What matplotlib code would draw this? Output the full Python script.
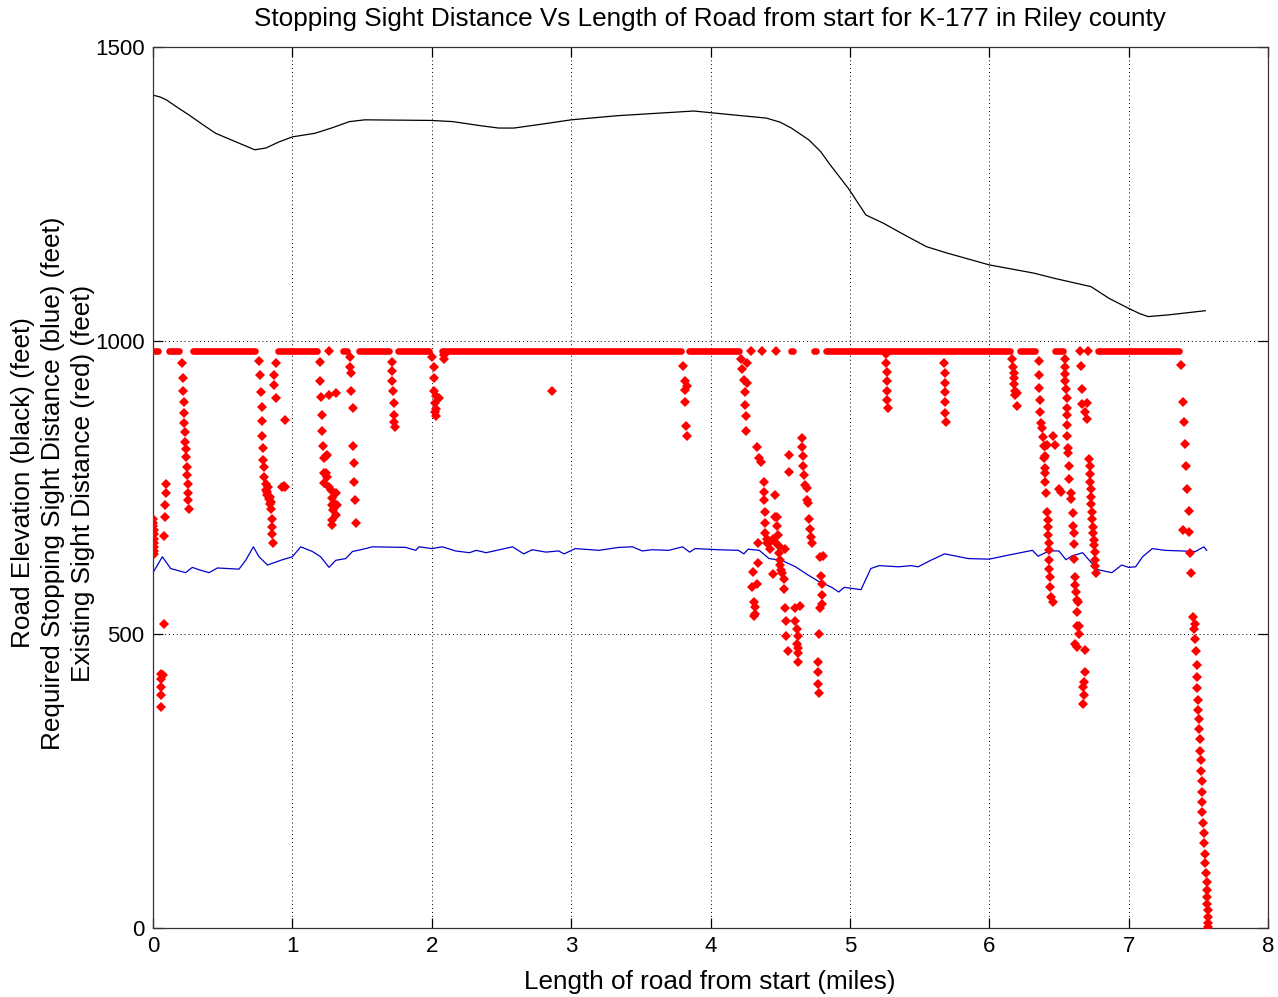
import numpy as np
import matplotlib
matplotlib.use("Agg")
import matplotlib.pyplot as plt

plt.rcParams['font.family'] = ['Liberation Sans', 'DejaVu Sans']

# Road elevation (black)
elev_x = [0.0, 0.05, 0.096, 0.17, 0.26, 0.35, 0.45, 0.6, 0.73, 0.81, 0.9, 1.0, 1.16, 1.28, 1.41,
          1.52, 1.99, 2.15, 2.35, 2.48, 2.59, 2.8, 3.0, 3.33, 3.88, 4.18, 4.40, 4.5, 4.58,
          4.705, 4.79, 4.86, 4.99, 5.115, 5.24, 5.4, 5.55, 5.70, 6.0, 6.32, 6.47, 6.73, 6.86,
          7.0, 7.08, 7.14, 7.29, 7.55]
elev_y = [1418, 1415, 1410, 1398, 1384, 1369, 1353, 1338, 1325, 1328, 1338, 1347, 1353, 1362,
          1373, 1376, 1375, 1373, 1366, 1362, 1362, 1369, 1376, 1383, 1391, 1384, 1379, 1372,
          1362, 1342, 1322, 1299, 1259, 1214, 1200, 1179, 1160, 1149, 1129, 1115, 1106, 1092,
          1072, 1055, 1046, 1041, 1044, 1051]

# Required stopping sight distance (blue)
req_x = [0.0, 0.067, 0.127, 0.234, 0.282, 0.33, 0.402, 0.462, 0.617, 0.665, 0.72, 0.761, 0.821,
         0.928, 1.0, 1.06, 1.144, 1.203, 1.263, 1.311, 1.383, 1.431, 1.526, 1.574, 1.813, 1.885,
         1.909, 2.0, 2.077, 2.17, 2.27, 2.32, 2.39, 2.58, 2.66, 2.72, 2.82, 2.91, 2.95, 3.03,
         3.20, 3.34, 3.44, 3.51, 3.58, 3.70, 3.80, 3.85, 3.89, 4.06, 4.20, 4.24, 4.27, 4.35,
         4.42, 4.51, 4.61, 4.70, 4.77, 4.87, 4.92, 4.96, 5.08, 5.15, 5.21, 5.35, 5.44, 5.49,
         5.58, 5.68, 5.85, 6.0, 6.14, 6.31, 6.35, 6.43, 6.50, 6.55, 6.59, 6.67, 6.74, 6.78,
         6.88, 6.95, 7.0, 7.05, 7.10, 7.17, 7.26, 7.38, 7.48, 7.54, 7.56]
req_y = [605, 632, 612, 605, 614, 610, 605, 613, 611, 626, 649, 632, 618, 627, 632, 649, 641,
         632, 614, 626, 629, 641, 646, 649, 648, 643, 649, 646, 649, 642, 639, 643, 639, 649,
         637, 644, 640, 642, 637, 646, 643, 648, 649, 642, 644, 643, 649, 640, 646, 644, 643,
         637, 645, 643, 629, 626, 615, 601, 591, 580, 572, 580, 576, 612, 617, 615, 617, 615,
         626, 637, 629, 628, 635, 643, 633, 642, 642, 627, 633, 639, 620, 610, 605, 618, 614,
         615, 632, 646, 643, 642, 641, 649, 643]

# Existing sight distance (red): runs of points sitting on the 983 ft ceiling
band_level = 983
band_start = [0.015, 0.115, 0.285, 0.895, 1.36, 1.48, 1.76, 2.075, 3.845, 4.575, 4.74, 4.83,
              6.22, 6.47, 6.78]
band_end = [0.035, 0.19, 0.735, 1.18, 1.395, 1.69, 1.98, 3.79, 4.205, 4.595, 4.755, 6.15,
            6.33, 6.53, 7.36]
band_dots_x = [1.263, 4.29, 4.37, 4.47, 6.65, 6.71]

# Existing sight distance (red): points below the ceiling, 0 - 2 miles
drop_a_x = [0.0, 0.002, 0.003, 0.004, 0.005, 0.006, 0.007, 0.008, 0.009, 0.01,
            0.09, 0.09, 0.085, 0.085, 0.08, 0.08, 0.055, 0.07, 0.06, 0.06, 0.055, 0.058,
            0.210, 0.213, 0.216, 0.219, 0.222, 0.225, 0.228, 0.232, 0.235, 0.238, 0.241, 0.244,
            0.248, 0.251, 0.254, 0.258,
            0.761, 0.768, 0.775, 0.78, 0.78, 0.785, 0.79, 0.79, 0.795, 0.798, 0.81, 0.81, 0.82,
            0.83, 0.845, 0.85, 0.852, 0.853, 0.856, 0.861, 0.82, 0.825, 0.838, 0.842,
            0.88, 0.868, 0.868, 0.88, 0.947, 0.928, 0.947, 0.94,
            1.196, 1.196, 1.203, 1.211, 1.211, 1.220, 1.227, 1.239, 1.251, 1.227, 1.239, 1.227,
            1.251, 1.263, 1.275, 1.311, 1.287, 1.299, 1.282, 1.323, 1.292, 1.311, 1.287, 1.287,
            1.263, 1.311,
            1.411, 1.411, 1.421, 1.419, 1.435, 1.435, 1.443, 1.443, 1.447, 1.455,
            1.713, 1.713, 1.718, 1.722, 1.727, 1.730, 1.732, 1.737,
            2.005, 2.017, 2.017, 2.017, 2.033, 2.053, 2.024, 2.033, 2.024, 2.033, 2.089, 2.085]
drop_a_y = [697, 690, 684, 677, 670, 663, 656, 649, 642, 636,
            756, 740, 720, 699, 668, 517, 433, 430, 424, 410, 396, 376,
            962, 937, 915, 896, 876, 860, 845, 828, 815, 802, 785, 771, 756, 741, 728, 713,
            966, 942, 913, 887, 864, 838, 817, 797, 785, 768, 756, 746, 737, 731, 726, 713, 697,
            683, 671, 656, 742, 750, 733, 722,
            962, 942, 925, 902, 865, 751, 751, 752,
            963, 932, 904, 874, 847, 820, 800, 803, 806, 774, 774, 757, 768, 751, 746, 740, 732,
            723, 720, 720, 712, 703, 695, 686, 908, 911,
            973, 956, 945, 915, 885, 820, 791, 760, 728, 690,
            963, 948, 932, 914, 894, 874, 862, 853,
            973, 955, 936, 915, 905, 902, 894, 883, 879, 872, 969, 975]

# 2 - 5 miles
drop_b_x = [2.866,
            3.804, 3.816, 3.828, 3.816, 3.816, 3.823, 3.828,
            4.221, 4.262, 4.226, 4.238, 4.262, 4.245, 4.25, 4.255, 4.255,
            4.333, 4.345, 4.364, 4.381, 4.381, 4.381, 4.388, 4.388, 4.393, 4.405, 4.417, 4.429,
            4.405,
            4.340, 4.340, 4.302, 4.333, 4.298, 4.31, 4.321, 4.321, 4.31,
            4.46, 4.464, 4.476, 4.479, 4.483, 4.445, 4.464, 4.488, 4.488, 4.5, 4.5, 4.507, 4.512,
            4.524, 4.524, 4.531, 4.445,
            4.56, 4.56, 4.536, 4.54, 4.54, 4.555, 4.607, 4.643, 4.607, 4.619, 4.631, 4.619,
            4.631, 4.626, 4.631,
            4.655, 4.66, 4.667, 4.667, 4.674, 4.679, 4.69, 4.69, 4.698, 4.707, 4.714, 4.721,
            4.731,
            4.786, 4.81, 4.793, 4.802, 4.798, 4.802, 4.786, 4.779, 4.774, 4.769, 4.774, 4.779]
drop_b_y = [915,
            957, 932, 922, 916, 896, 854, 837,
            968, 962, 951, 933, 928, 912, 891, 872, 847,
            819, 800, 794, 760, 743, 728, 709, 690, 672, 662, 655, 646, 655,
            656, 621, 606, 586, 580, 555, 546, 535, 532,
            737, 700, 700, 684, 669, 663, 658, 650, 639, 626, 618, 610, 604, 595, 578, 646, 602,
            805, 777, 545, 523, 498, 471, 545, 549, 523, 509, 498, 484, 477, 468, 453,
            834, 819, 803, 787, 771, 754, 749, 729, 723, 697, 680, 666, 655,
            632, 633, 599, 585, 567, 551, 545, 500, 453, 436, 416, 400]

# 5 - 8 miles
drop_c_x = [5.262, 5.262, 5.264, 5.264, 5.269, 5.269, 5.274,
            5.674, 5.679, 5.683, 5.683, 5.683, 5.683, 5.69,
            6.163, 6.167, 6.175, 6.175, 6.175, 6.187, 6.199, 6.182, 6.199,
            6.354, 6.359, 6.359, 6.366, 6.366, 6.373, 6.378, 6.383, 6.390, 6.402, 6.414, 6.390,
            6.402, 6.397, 6.397, 6.402, 6.407, 6.414, 6.421, 6.421, 6.421, 6.426, 6.426, 6.431,
            6.431, 6.438, 6.438, 6.445, 6.455, 6.455, 6.469, 6.502, 6.517,
            6.541, 6.545, 6.545, 6.545, 6.550, 6.557, 6.557, 6.557, 6.557, 6.557, 6.565, 6.565,
            6.574, 6.574, 6.589, 6.589, 6.598, 6.598, 6.605, 6.605, 6.605, 6.617, 6.617, 6.622,
            6.629, 6.636, 6.629, 6.629, 6.646, 6.646, 6.612, 6.629, 6.684, 6.689, 6.677, 6.670,
            6.677, 6.670,
            6.66, 6.665, 6.665, 6.701, 6.689, 6.701,
            6.718, 6.725, 6.725, 6.725, 6.732, 6.732, 6.732, 6.737, 6.737, 6.742, 6.742, 6.749,
            6.749, 6.756, 6.756, 6.761, 6.766,
            7.378, 7.388, 7.395, 7.407, 7.411, 7.421, 7.431, 7.388, 7.431, 7.443, 7.45,
            7.463, 7.475, 7.468, 7.475, 7.482, 7.487, 7.492, 7.492, 7.499, 7.499, 7.506, 7.506,
            7.511, 7.511, 7.516, 7.516, 7.523, 7.523, 7.523, 7.530, 7.535, 7.540, 7.540, 7.547,
            7.547, 7.554, 7.559, 7.559, 7.564, 7.564, 7.571, 7.571, 7.571, 7.571]
drop_c_y = [978, 962, 946, 931, 915, 899, 885,
            962, 945, 928, 912, 896, 877, 861,
            969, 955, 945, 936, 927, 914, 911, 908, 889,
            965, 942, 919, 899, 879, 860, 851, 836, 820, 820, 823, 800, 803, 783, 774, 760, 741,
            709, 695, 683, 669, 656, 643, 626, 612, 597, 581, 564, 555, 838, 823, 747, 743,
            968, 955, 944, 931, 918, 902, 885, 874, 857, 838, 817, 808, 787, 764, 740, 730, 706,
            684, 672, 654, 629, 598, 584, 572, 559, 555, 538, 515, 514, 501, 484, 478, 474, 436,
            419, 410, 396, 382,
            957, 918, 892, 894, 879, 866,
            798, 786, 773, 760, 747, 734, 722, 709, 696, 683, 672, 660, 652, 641, 627, 616, 604,
            959, 895, 861, 824, 787, 747, 710, 677, 675, 639, 604,
            529, 518, 509, 492, 471, 448, 427, 408, 389, 372, 355, 338, 321, 302, 286, 268, 251,
            232, 215, 198, 179, 161, 144, 126, 110, 94, 79, 65, 52, 41, 31, 19, 9, 2]

x_ticks = [0, 1, 2, 3, 4, 5, 6, 7, 8]
y_ticks = [0, 500, 1000, 1500]

W, H = 1278, 997
fig = plt.figure(figsize=(W / 100, H / 100), dpi=100)
ax = fig.add_axes([153 / W, 1 - 928 / H, (1268 - 153) / W, (928 - 47) / H])

red = '#ff0000'
for s, e in zip(band_start, band_end):
    ax.plot([s, e], [band_level, band_level], color=red, lw=4.8, solid_capstyle='round', zorder=3)
ax.plot(band_dots_x, [band_level] * len(band_dots_x), 'D', color=red, ms=4.6, mew=0, zorder=3,
        linestyle='none')
for dx, dy in [(drop_a_x, drop_a_y), (drop_b_x, drop_b_y), (drop_c_x, drop_c_y)]:
    ax.plot(dx, dy, 'D', color=red, ms=4.6, mew=0, linestyle='none', zorder=3)

ax.plot(elev_x, elev_y, color='black', lw=0.9, zorder=2)
ax.plot(req_x, req_y, color='#0000cc', lw=0.9, zorder=2)

ax.set_xlim(0, 8)
ax.set_ylim(0, 1500)
ax.set_xticks(x_ticks)
ax.set_yticks(y_ticks)
ax.tick_params(direction='in', length=7, width=0.9, top=True, right=True, labelsize=16,
               colors='black')
ax.tick_params(axis='x', pad=6)
ax.tick_params(axis='y', pad=6)
for sp in ax.spines.values():
    sp.set_linewidth(0.9)
    sp.set_color('#333333')
ax.grid(True, color='black', linestyle=(0, (1, 3)), lw=0.7)

lab_fs = 18.8
fig.text(710 / W, 1 - 19 / H,
         'Stopping Sight Distance Vs Length of Road from start for K-177 in Riley county',
         ha='center', va='center', fontsize=lab_fs)
fig.text(710 / W, 1 - 982 / H, 'Length of road from start (miles)',
         ha='center', va='center', fontsize=lab_fs)

ylab_lines = ['Road Elevation (black) (feet)',
              'Required Stopping Sight Distance (blue) (feet)',
              'Existing Sight Distance (red) (feet)']
for xp, txt in zip([23, 53, 83], ylab_lines):
    fig.text(xp / W, 1 - 483 / H, txt, rotation=90, ha='center', va='center', fontsize=lab_fs)

fig.savefig('out.png', dpi=100)
